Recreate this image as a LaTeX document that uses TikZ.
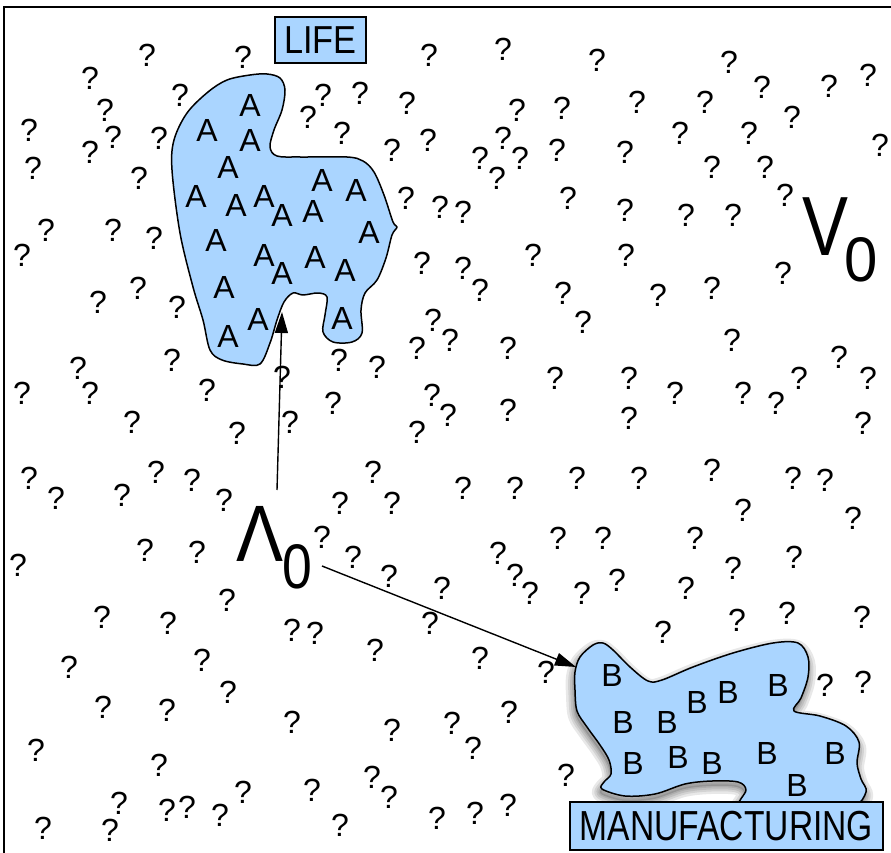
\documentclass[tikz,border=0pt]{standalone}
\usepackage{fontspec}
\setmainfont{Liberation Sans}
\usepackage{graphicx}
\usetikzlibrary{arrows.meta}
\definecolor{blobblue}{RGB}{170,213,255}
\tikzset{
  qm/.style={inner sep=0pt, font=\fontsize{32}{38}\selectfont},
  letter/.style={inner sep=0pt, font=\fontsize{32}{38}\selectfont},
  bigsym/.style={inner sep=0pt},
  blob/.style={fill=blobblue, draw=black, line width=1.5pt, line join=round},
  labelbox/.style={fill=blobblue, draw=black, line width=2pt, inner sep=0pt},
  arr/.style={line width=1.4pt, -{Triangle[length=21pt,width=13pt]}},
  lifeshape/.style={insert path={plot[smooth cycle, tension=0.55] coordinates {
    (227,80) (250,75) (267,74) (280,78) (285,90) (282,110) (274,130) (270,147)
    (277,156) (300,157) (347,157) (363,161) (374,172) (384,195) (393,222) (397,227)
    (392,235) (386,258) (377,280) (365,293) (361,310) (362,333) (352,342) (333,342)
    (323,332) (325,315) (327,297) (318,293) (303,295) (293,293) (284,302) (277,320)
    (270,343) (260,364) (243,364) (222,360) (210,350) (203,320) (193,287) (180,233)
    (172,170) (174,140) (187,113) (208,92)}}},
  mfgshape/.style={insert path={plot[smooth cycle, tension=0.55] coordinates {
    (580,657) (593,645) (603,643) (613,650) (630,667) (648,681) (662,680) (693,667)
    (733,653) (773,643) (798,643) (808,657) (808,677) (801,698) (794,711) (820,716)
    (846,726) (859,742) (857,763) (861,779) (866,792) (850,806) (780,806) (740,806)
    (746,790) (738,782) (712,781) (685,784) (655,794) (625,796) (602,789) (604,782)
    (611,774) (609,760) (600,745) (587,727) (577,711) (575,690) (575,672)}}}
}
\begin{document}
\begin{tikzpicture}[x=1pt,y=-1pt]
\useasboundingbox (0,0) rectangle (891,853);
\fill[white] (0,0) rectangle (891,853);
\draw[line width=2pt] (4,853) -- (4,7) -- (891,7);

% question marks
\foreach \x/\y [count=\i] in {
147/55, 243/57, 90/78, 180/95, 105/110, 113/137, 29/130, 90/152, 159/138, 33/168,
139/178, 46/230, 22/255, 113/230, 154/238, 138/288, 98/302,
429/55, 503/49, 323/95, 360/93, 308/117, 407/103, 342/133, 517/110, 562/108, 428/140,
392/150, 480/158, 503/138, 520/158, 497/178, 557/150, 406/198, 440/207, 463/212,
568/198, 422/263, 463/268, 480/290, 533/255, 563/293,
597/60, 729/62, 762/87, 637/102, 705/102, 829/86, 868/75, 792/117, 680/133, 749/133,
625/152, 712/167, 765/167, 880/145, 785/195, 625/210, 686/215, 733/215, 626/255,
658/295, 712/288, 783/273,
177/307, 172/360, 78/368, 90/393, 22/393, 207/390, 132/422, 237/433, 282/377, 290/422,
29/478, 56/498, 122/495, 156/472, 192/480, 224/500, 145/550, 197/552, 18/565,
583/322, 433/320, 450/340, 417/348, 508/348, 339/360, 377/367, 555/378, 333/403,
432/395, 448/415, 417/432, 508/410, 373/472, 340/503, 392/503, 463/488, 515/488,
577/478, 322/537, 353/557, 498/553, 558/538, 389/576,
732/340, 839/357, 629/378, 675/393, 743/393, 776/403, 799/378, 868/378, 629/418,
863/423, 639/478, 712/470, 793/478, 825/480, 743/510, 853/518, 603/538, 695/538,
733/568, 794/557,
227/600, 102/617, 168/623, 292/630, 202/660, 69/667, 103/707, 167/710, 228/692,
292/722, 36/750, 159/765, 119/803, 110/830, 43/828, 167/810, 187/807, 220/815, 243/792,
515/575, 530/593, 442/588, 582/593, 430/623, 315/633, 375/650, 480/658, 546/672,
392/730, 452/723, 473/748, 509/712, 566/775, 312/790, 372/777, 389/797, 340/825,
437/818, 475/813, 508/805,
617/580, 686/588, 663/632, 737/620, 787/613, 862/617, 825/685, 863/682}
  \node[qm] (q\i) at (\x,\y) {?};

% LIFE blob
\path[blob, lifeshape];
\foreach \x/\y [count=\i] in {250/105, 207/130, 250/140, 228/167, 196/196, 236/205,
264/196, 282/215, 322/180, 356/190, 313/211, 369/232, 216/240, 264/255, 282/273,
315/257, 345/270, 224/287, 342/318, 258/319, 228/336}
  \node[letter] (a\i) at (\x,\y) {A};

% MANUFACTURING blob with soft shadow
\fill[black, opacity=0.14, shift={(-1,5)}, mfgshape];
\foreach \w in {16,11,7,3}
  \draw[black, opacity=0.09, line width=\w pt, line join=round, shift={(-1,5)}, mfgshape];
\path[blob, mfgshape];
\foreach \x/\y [count=\i] in {612/675, 623/722, 667/722, 697/702, 728/692, 778/685,
633/763, 678/757, 712/763, 767/753, 835/753, 797/785}
  \node[letter] (b\i) at (\x,\y) {B};

% labels
\node[labelbox, minimum width=91pt, minimum height=46pt] (life) at (320.5,40)
  {\scalebox{0.88}[1]{\fontsize{39}{46}\selectfont LIFE}};
\node[labelbox, minimum width=313pt, minimum height=48pt] (mfg) at (726.5,826)
  {\scalebox{0.8}[1]{\fontsize{42}{50}\selectfont MANUFACTURING}};

% V0 and Lambda0
\node[bigsym] (vee) at (825,227) {\scalebox{0.82}[1]{\fontsize{84}{90}\selectfont V}};
\node[bigsym] (veesub) at (861,260) {\scalebox{0.95}[1]{\fontsize{63}{70}\selectfont 0}};
\node[bigsym] (lam) at (260,534) {\scalebox{0.88}[1]{\fontsize{80}{90}\selectfont Λ}};
\node[bigsym] (lamsub) at (297,567) {\scalebox{0.85}[1]{\fontsize{63}{70}\selectfont 0}};

% arrows
\coordinate (lamstart) at (277,490);
\coordinate (lifetip) at (282,312);
\coordinate (lamstart2) at (322,566);
\coordinate (mfgtip) at (576,667);
\draw[arr] (lamstart) -- (lifetip);
\draw[arr] (lamstart2) -- (mfgtip);
\end{tikzpicture}
\end{document}
